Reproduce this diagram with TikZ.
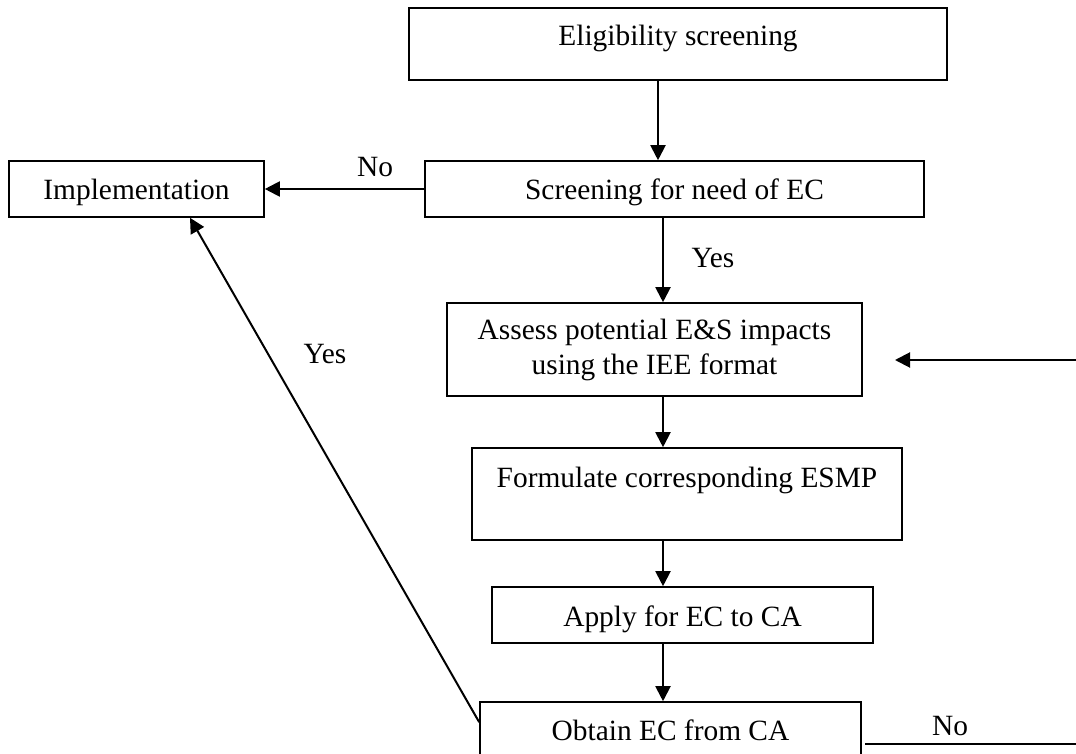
\documentclass[tikz,border=0pt]{standalone}
\usepackage{fontspec}
\setmainfont{Liberation Serif}
\usetikzlibrary{arrows.meta,calc}
\begin{document}
\begin{tikzpicture}[x=1pt,y=-1pt,
  txtfont/.style={font=\fontsize{29.4}{35}\selectfont},
  box/.style={draw, line width=1.6pt, rectangle, inner sep=0pt, txtfont},
  oneline/.style={text height=20pt, text depth=6pt},
  arr/.style={line width=2pt, -{Triangle[length=15pt,width=15pt]}},
  plain/.style={line width=2pt},
  lbl/.style={anchor=base, inner sep=0pt, txtfont}]
\useasboundingbox (0,0) rectangle (1076,754);
\clip (0,0) rectangle (1076,754);
% boxes
\node[box, oneline, minimum width=538pt, minimum height=72pt] (elig) at (678,44) {\raisebox{5.5pt}{Eligibility screening}};
\node[box, oneline, minimum width=499pt, minimum height=56pt] (screen) at (674.5,189) {\raisebox{-3.5pt}{Screening for need of EC}};
\node[box, oneline, minimum width=255pt, minimum height=56pt] (impl) at (136.5,189) {\raisebox{-4pt}{Implementation}};
\node[box, align=center, minimum width=415pt, minimum height=93pt] (assess) at (654.5,349.5) {Assess potential E\&S impacts\\using the IEE format};
\node[box, oneline, minimum width=430pt, minimum height=92pt] (form) at (687,494) {\raisebox{14pt}{Formulate corresponding ESMP}};
\node[box, oneline, minimum width=381pt, minimum height=56pt] (apply) at (682.5,615) {\raisebox{-4pt}{Apply for EC to CA}};
\node[box, oneline, minimum width=381pt, minimum height=68pt] (obtain) at (670.5,736) {\raisebox{3pt}{Obtain EC from CA}};
% helper coordinates
\coordinate (xa) at (658,0);
\coordinate (xb) at (663,0);
\coordinate (xd) at (190,0);
\coordinate (rin) at (1080,360);
\coordinate (rtip) at (895,360);
\coordinate (nend) at (1080,744);
\coordinate (nstart) at (865,744);
% connectors
\draw[arr] (xa |- elig.south) -- (xa |- screen.north);
\draw[arr] (screen.west) -- (impl.east);
\draw[arr] (xb |- screen.south) -- (xb |- assess.north);
\draw[arr] (xb |- assess.south) -- (xb |- form.north);
\draw[arr] (xb |- form.south) -- (xb |- apply.north);
\draw[arr] (xb |- apply.south) -- (xb |- obtain.north);
\draw[arr] (rin) -- (rtip);
\draw[plain] (nstart) -- (nend);
\draw[arr] ($(obtain.north west)+(0,21)$) -- (xd |- impl.south);
% labels
\node[lbl] (noA) at (375,177) {No};
\node[lbl] (yesA) at (713,267) {Yes};
\node[lbl] (yesB) at (325,363) {Yes};
\node[lbl] (noB) at (950,735) {No};
\end{tikzpicture}
\end{document}
